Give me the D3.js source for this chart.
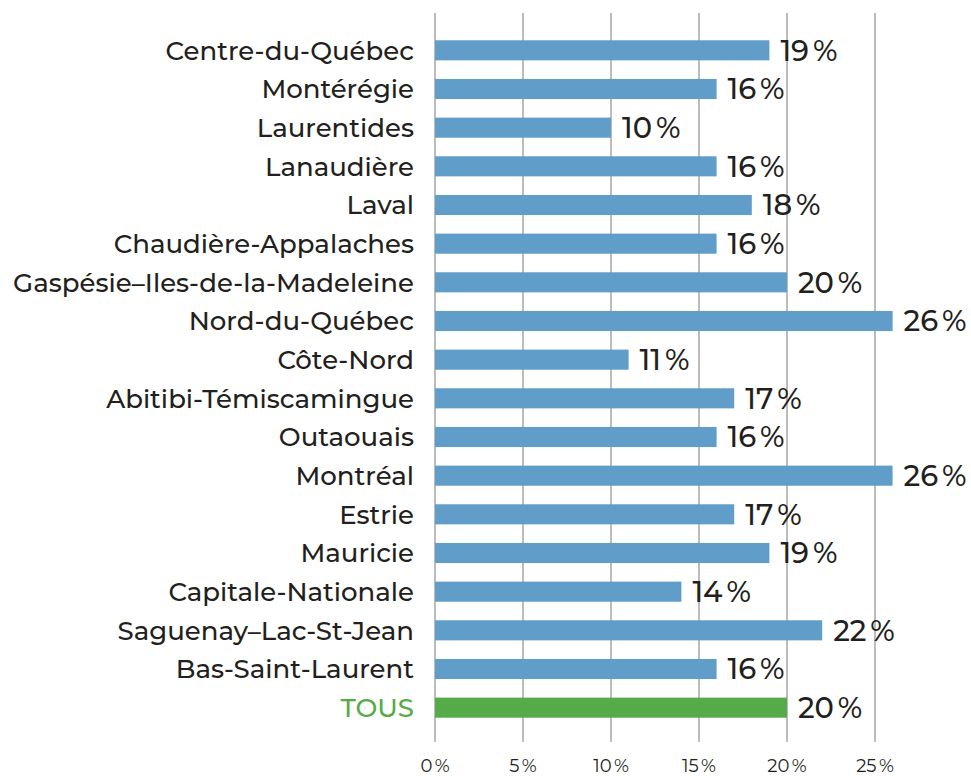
<!DOCTYPE html>
<html>
<head>
<meta charset="utf-8">
<script src="https://cdn.jsdelivr.net/npm/d3@7"></script>
<style>
  body { margin: 0; background: #fff; }
  text { font-family: "Montserrat", "Noto Sans", sans-serif; fill: #231f20; }
</style>
</head>
<body>
<script>
var regions = [
  'Centre-du-Québec', 'Montérégie', 'Laurentides', 'Lanaudière', 'Laval',
  'Chaudière-Appalaches', 'Gaspésie–Iles-de-la-Madeleine', 'Nord-du-Québec',
  'Côte-Nord', 'Abitibi-Témiscamingue', 'Outaouais', 'Montréal', 'Estrie',
  'Mauricie', 'Capitale-Nationale', 'Saguenay–Lac-St-Jean', 'Bas-Saint-Laurent', 'TOUS'
];
var values = [19, 16, 10, 16, 18, 16, 20, 26, 11, 17, 16, 26, 17, 19, 14, 22, 16, 20];
var ticks = [0, 5, 10, 15, 20, 25];

var width = 971, height = 776;

var svg = d3.select('body').append('svg')
  .attr('width', width)
  .attr('height', height);

var x = d3.scaleLinear()
  .domain([0, 25])
  .range([435, 875]);

var y = d3.scaleBand()
  .domain(regions)
  .range([31, 727])
  .paddingInner(0.48)
  .paddingOuter(0.24);

// grid
svg.append('g')
  .selectAll('line')
  .data(ticks)
  .enter().append('line')
  .attr('x1', function(d) { return x(d); })
  .attr('x2', function(d) { return x(d); })
  .attr('y1', 13)
  .attr('y2', 742)
  .attr('stroke', '#bcbcbc')
  .attr('stroke-width', 2);

// tick labels
svg.append('g')
  .selectAll('text')
  .data(ticks)
  .enter().append('text')
  .attr('x', function(d) { return x(d); })
  .attr('y', 772)
  .attr('text-anchor', 'middle')
  .style('font-size', '18px')
  .style('font-weight', 400)
  .text(function(d) { return d + '\u2009%'; });

// bars
svg.append('g')
  .selectAll('rect')
  .data(values)
  .enter().append('rect')
  .attr('x', x(0))
  .attr('y', function(d, i) { return y(regions[i]); })
  .attr('width', function(d) { return x(d) - x(0); })
  .attr('height', y.bandwidth())
  .attr('fill', function(d, i) { return regions[i] === 'TOUS' ? '#55ab47' : '#609dc9'; });

// value labels
svg.append('g')
  .selectAll('text')
  .data(values)
  .enter().append('text')
  .attr('x', function(d) { return x(d) + 11; })
  .attr('y', function(d, i) { return y(regions[i]) + y.bandwidth() / 2; })
  .attr('dy', '0.36em')
  .style('font-size', '29px')
  .style('font-weight', 500)
  .text(function(d) { return d + '\u2009%'; });

// category labels
svg.append('g')
  .selectAll('text')
  .data(regions)
  .enter().append('text')
  .attr('x', 414)
  .attr('y', function(d) { return y(d) + y.bandwidth() / 2; })
  .attr('dy', '0.36em')
  .attr('text-anchor', 'end')
  .style('font-size', '26px')
  .style('font-weight', 500)
  .style('fill', function(d) { return d === 'TOUS' ? '#55ab47' : '#231f20'; })
  .text(function(d) { return d; });
</script>
</body>
</html>
